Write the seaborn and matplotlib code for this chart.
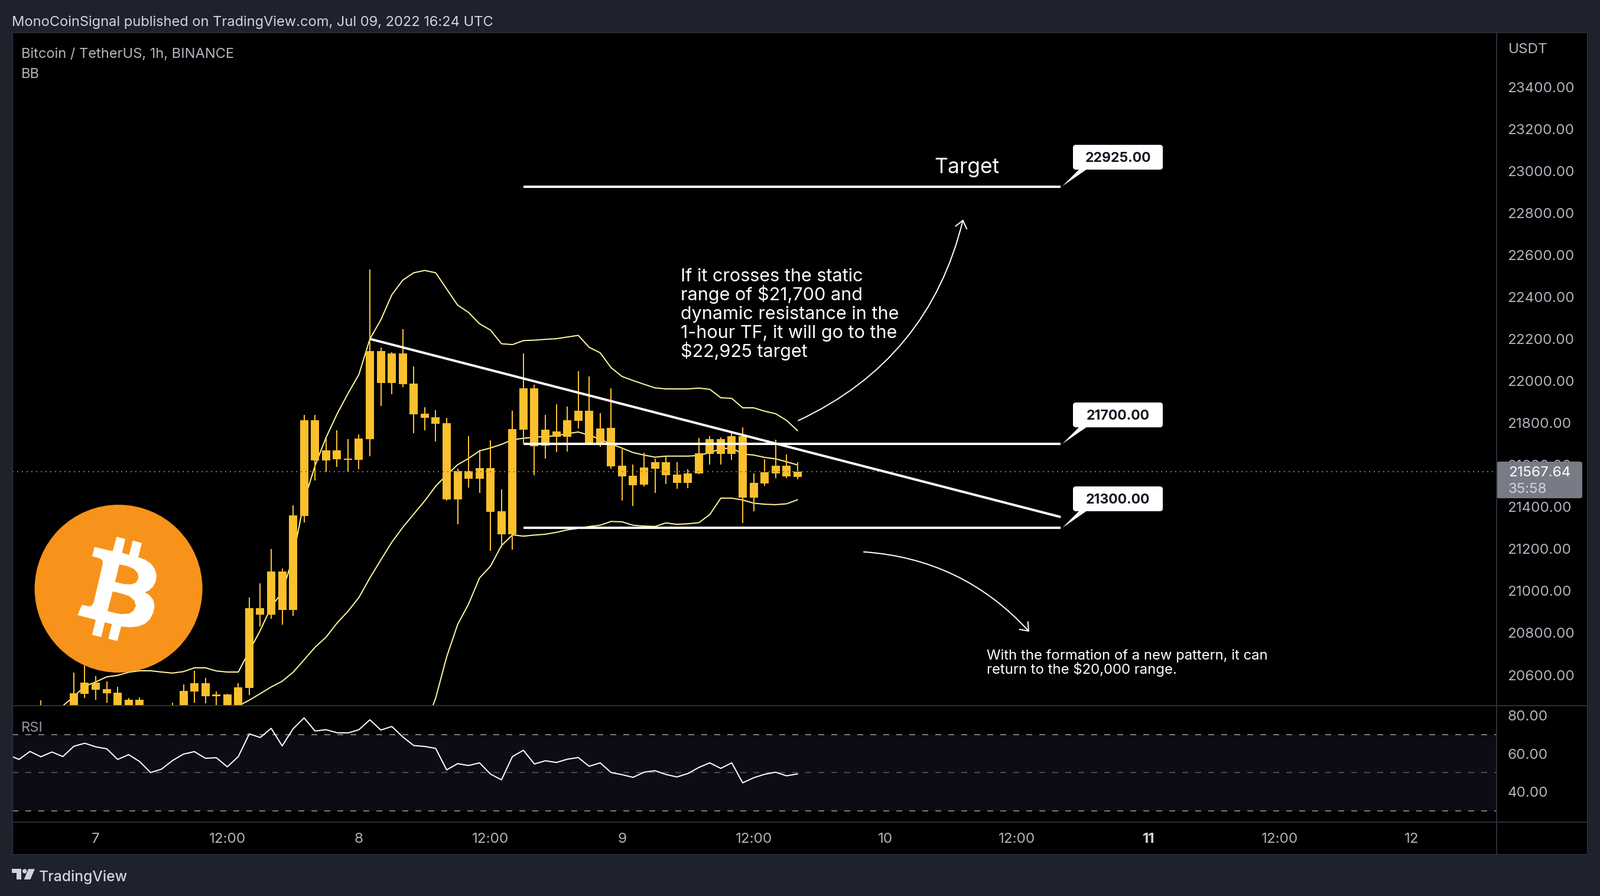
import numpy as np
import matplotlib
matplotlib.use("Agg")
import matplotlib.pyplot as plt
import seaborn as sns
from matplotlib.patches import Rectangle, Circle, FancyBboxPatch, Polygon

# ------ DATA ------ #

# hours since Jul 7 00:00
candle_hours = list(range(-5, 65))
candle_high = [20478, 20445, 20445, 20612, 20644, 20595, 20568, 20543, 20490, 20493,
               20445, 20445, 20467, 20554, 20620, 20586, 20521, 20511, 20560, 20969,
               21036, 21200, 21106, 21409, 21839, 21839, 21727, 21764, 21722, 21744,
               22530, 22160, 22136, 22246, 22068, 21876, 21862, 21825, 21583, 21736,
               21673, 21718, 21484, 21859, 22132, 21983, 21839, 21890, 21878, 22047,
               22022, 21847, 21966, 21676, 21602, 21659, 21631, 21642, 21614, 21580,
               21729, 21738, 21732, 21752, 21780, 21560, 21628, 21721, 21650, 21614]
candle_top = [20440, 20430, 20430, 20512, 20563, 20563, 20532, 20515, 20481, 20481,
              20430, 20430, 20440, 20523, 20560, 20560, 20507, 20507, 20540, 20919,
              20919, 21092, 21092, 21360, 21814, 21814, 21670, 21670, 21631, 21727,
              22141, 22141, 22132, 22132, 21987, 21845, 21828, 21800, 21572, 21572,
              21585, 21585, 21380, 21771, 21966, 21966, 21769, 21760, 21814, 21859,
              21859, 21774, 21777, 21597, 21549, 21588, 21614, 21614, 21554, 21560,
              21656, 21723, 21723, 21738, 21738, 21515, 21566, 21597, 21597, 21569]
candle_bot = [20420, 20420, 20420, 20420, 20509, 20529, 20512, 20420, 20420, 20420,
              20420, 20420, 20420, 20420, 20521, 20498, 20498, 20420, 20420, 20537,
              20888, 20888, 20910, 20910, 21357, 21622, 21622, 21628, 21625, 21625,
              21724, 21989, 21989, 21984, 21842, 21825, 21797, 21437, 21437, 21535,
              21535, 21377, 21270, 21271, 21769, 21688, 21691, 21735, 21735, 21811,
              21704, 21704, 21594, 21546, 21504, 21507, 21583, 21552, 21515, 21515,
              21560, 21653, 21653, 21653, 21445, 21445, 21512, 21560, 21546, 21543]
candle_low = [20400, 20400, 20400, 20400, 20490, 20481, 20467, 20400, 20400, 20400,
              20400, 20400, 20400, 20400, 20467, 20465, 20440, 20400, 20400, 20504,
              20830, 20868, 20839, 20882, 21326, 21527, 21569, 21591, 21569, 21580,
              21642, 21881, 21937, 21970, 21752, 21764, 21713, 21429, 21318, 21493,
              21467, 21191, 21208, 21197, 21704, 21552, 21631, 21662, 21664, 21774,
              21699, 21687, 21583, 21431, 21405, 21498, 21467, 21509, 21487, 21490,
              21557, 21602, 21602, 21625, 21323, 21380, 21501, 21538, 21538, 21532]

upper_hours = list(range(-3, 65))
bb_upper = [20453, 20497, 20546, 20567, 20591, 20598, 20613, 20620, 20620, 20614,
            20609, 20616, 20634, 20634, 20619, 20614, 20614, 20714, 20812, 20924,
            20994, 21162, 21429, 21597, 21730, 21842, 21940, 22031, 22200, 22291,
            22410, 22480, 22515, 22526, 22515, 22438, 22361, 22326, 22272, 22242,
            22177, 22173, 22192, 22194, 22198, 22201, 22209, 22217, 22160, 22134,
            22063, 22021, 22002, 21984, 21967, 21962, 21962, 21962, 21966, 21960,
            21920, 21917, 21872, 21872, 21856, 21844, 21812, 21763]

middle_hours = list(range(13, 65))
bb_middle = [20453, 20480, 20511, 20543, 20570, 20613, 20672, 20732, 20780, 20847,
             20903, 20969, 21062, 21148, 21232, 21303, 21366, 21429, 21499, 21552,
             21601, 21631, 21667, 21681, 21698, 21720, 21727, 21732, 21735, 21739,
             21749, 21757, 21741, 21723, 21699, 21680, 21659, 21647, 21637, 21642,
             21642, 21642, 21645, 21659, 21676, 21681, 21652, 21647, 21636, 21629,
             21615, 21600]

lower_hours = list(range(30, 65))
bb_lower = [20350, 20490, 20686, 20840, 20938, 21062, 21118, 21216, 21267, 21261,
            21266, 21270, 21279, 21291, 21298, 21307, 21313, 21331, 21329, 21313,
            21309, 21307, 21324, 21317, 21320, 21325, 21364, 21442, 21442, 21433,
            21418, 21413, 21411, 21415, 21434]

rsi_hours = list(range(-8, 65))
rsi_values = [59.4, 57.0, 61.2, 58.4, 60.9, 58.5, 63.9, 65.5, 63.6, 62.6,
              57.0, 59.5, 55.9, 50.1, 51.9, 56.4, 59.8, 61.1, 57.6, 57.9,
              53.1, 58.5, 70.4, 68.5, 73.3, 64.1, 73.1, 78.8, 71.9, 72.6,
              71.0, 70.9, 72.6, 77.8, 72.4, 74.3, 68.8, 64.3, 63.8, 62.8,
              51.5, 54.8, 53.8, 55.2, 49.3, 46.3, 58.5, 61.8, 54.6, 56.3,
              55.4, 57.1, 58.0, 53.4, 55.2, 50.1, 49.0, 47.6, 50.3, 51.1,
              49.1, 47.8, 49.6, 52.8, 55.2, 52.3, 55.2, 44.7, 47.4, 49.2,
              50.3, 48.4, 49.4]

price_ticks = [23400, 23200, 23000, 22800, 22600, 22400, 22200, 22000, 21800,
               21600, 21400, 21200, 21000, 20800, 20600]
rsi_ticks = [80, 60, 40]
time_ticks = [0, 12, 24, 36, 48, 60, 72, 84, 96, 108, 120]
time_labels = ["7", "12:00", "8", "12:00", "9", "12:00", "10", "12:00", "11", "12:00", "12"]

last_price = 21567.64
target_levels = [22925, 21700, 21300]
level_start, level_end = 39, 88
trend_hours = [25, 88]
trend_prices = [22200, 21352]

note_lines = ["If it crosses the static", "range of $21,700 and", "dynamic resistance in the",
              "1-hour TF, it will go to the", "$22,925 target"]
small_lines = ["With the formation of a new pattern, it can", "return to the $20,000 range."]

b_outer = [(232, 54), (276, 66), (260, 136), (296, 146), (314, 74), (360, 86), (342, 158), (375, 170),
           (405, 190), (425, 215), (435, 250), (430, 285), (415, 310), (395, 328), (375, 336), (400, 352),
           (418, 375), (425, 405), (418, 440), (400, 475), (375, 497), (340, 510), (300, 514), (255, 510),
           (236, 584), (190, 572), (208, 498), (172, 489), (154, 564), (108, 552), (126, 476), (34, 452),
           (56, 400), (92, 408), (105, 405), (115, 390), (162, 190), (160, 175), (148, 165), (108, 153),
           (120, 106), (212, 128)]
b_hole_top = [(246, 195), (285, 203), (320, 218), (340, 240), (343, 265), (330, 288), (305, 296),
              (270, 295), (224, 284)]
b_hole_low = [(212, 332), (255, 342), (295, 355), (322, 378), (330, 405), (318, 430), (295, 445),
              (250, 447), (186, 432)]

# ------ STYLE ------ #

W, H = 2708, 1516
BG = "#1e222d"
BORDER = "#2a2e39"
AXIS_TEXT = "#b2b5be"
CANDLE = "#fbc02d"
BAND = "#fff59d"
LOGO = "#f7931a"
FOOT = "#d1d4dc"
px = 0.72  # pixels to points at dpi 100
AXIS_SIZE = 17.4

sns.set_theme(style="dark", font="Inter", rc={"axes.facecolor": "black", "figure.facecolor": BG,
                                              "axes.grid": False, "axes.linewidth": 0})

fig = plt.figure(figsize=(W / 100, H / 100), dpi=100)
fig.add_artist(Rectangle((21 / W, 1 - 1446 / H), (2687 - 21) / W, (1446 - 55) / H,
                         transform=fig.transFigure, color="black", zorder=-1))


def pane(left, top, right, bottom):
    return fig.add_axes([left / W, 1 - bottom / H, (right - left) / W, (bottom - top) / H])


ax = pane(21, 55, 2533, 1194)
ax_rsi = pane(21, 1194, 2533, 1391)

# ------ PRICE PANE ------ #

tops = np.array(candle_top)
bots = np.array(candle_bot)
for band_x, band_y in [(upper_hours, bb_upper), (middle_hours, bb_middle), (lower_hours, bb_lower)]:
    sns.lineplot(x=band_x, y=band_y, ax=ax, color=BAND, lw=2 * px, estimator=None, zorder=2)

ax.vlines(candle_hours, candle_low, candle_high, color=CANDLE, lw=2 * px, zorder=3)
ax.bar(candle_hours, tops - bots, bottom=bots, width=14 / 18.56, color=CANDLE, lw=0, zorder=3)

ax.axhline(last_price, color="#787b86", lw=2 * px, ls=(0, (1, 3)), zorder=4)
for level in target_levels:
    ax.plot([level_start, level_end], [level, level], color="white", lw=4 * px,
            solid_capstyle="butt", zorder=5)
ax.plot(trend_hours, trend_prices, color="white", lw=4 * px, solid_capstyle="butt", zorder=5)

arrow = dict(color="white", lw=2 * px, shrinkA=0, shrinkB=0, mutation_scale=10)
ax.annotate("", xy=(79.1, 22769), xytext=(64.06, 21811), zorder=6,
            arrowprops=dict(arrowstyle="->,head_length=0.9,head_width=0.7",
                            connectionstyle="arc3,rad=0.24", **arrow))
ax.annotate("", xy=(85.13, 20806), xytext=(70.04, 21186), zorder=6,
            arrowprops=dict(arrowstyle="->,head_length=0.9,head_width=0.7",
                            connectionstyle="arc3,rad=-0.2", **arrow))

ax.set_xlim(-7.6, 127.75)
ax.set_ylim(20453.7, 23659)
ax.set_xticks([])
ax.set_yticks(price_ticks)
ax.set_yticklabels([f"{t:.2f}" for t in price_ticks], va="center_baseline")
ax.yaxis.tick_right()
ax.tick_params(axis="y", length=0, pad=18.5 * px, labelsize=AXIS_SIZE, labelcolor=AXIS_TEXT)
ax.set_ylabel("")

# ------ RSI PANE ------ #

ax_rsi.axhspan(30, 70, color="#0d0b14", lw=0, zorder=1)
ax_rsi.axhline(70, color="#787b86", lw=2 * px, ls=(0, (5, 6)), zorder=2)
ax_rsi.axhline(50, color="#4a4a55", lw=2 * px, ls=(0, (5, 6)), zorder=2)
ax_rsi.axhline(30, color="#787b86", lw=2 * px, ls=(0, (5, 6)), zorder=2)
sns.lineplot(x=rsi_hours, y=rsi_values, ax=ax_rsi, color="white", lw=2 * px, estimator=None, zorder=3)

ax_rsi.set_xlim(-7.6, 127.75)
ax_rsi.set_ylim(24.1, 85.2)
ax_rsi.set_yticks(rsi_ticks)
ax_rsi.set_yticklabels([f"{t:.2f}" for t in rsi_ticks], va="center_baseline")
ax_rsi.yaxis.tick_right()
ax_rsi.tick_params(axis="y", length=0, pad=18.5 * px, labelsize=AXIS_SIZE, labelcolor=AXIS_TEXT)
ax_rsi.set_xticks(time_ticks)
ax_rsi.set_xticklabels(time_labels)
ax_rsi.tick_params(axis="x", length=0, pad=18 * px, labelsize=AXIS_SIZE, labelcolor=AXIS_TEXT)
for tick in ax_rsi.get_xticklabels():
    if tick.get_text() == "11":
        tick.set_fontweight("bold")
        tick.set_color(FOOT)
ax_rsi.set_ylabel("")

# ------ OVERLAY (pixel coordinates) ------ #

ov = fig.add_axes([0, 0, 1, 1], zorder=5)
ov.set_xlim(0, W)
ov.set_ylim(H, 0)
ov.axis("off")

for x0, y0, x1, y1 in [(21, 55, 2687, 55), (21, 55, 21, 1446), (21, 1446, 2687, 1446),
                       (2687, 55, 2687, 1446), (2533, 55, 2533, 1446),
                       (21, 1194, 2687, 1194), (21, 1391, 2687, 1391)]:
    ov.plot([x0, x1], [y0, y1], color=BORDER, lw=2 * px, solid_capstyle="butt")

ov.text(20, 35, "MonoCoinSignal published on TradingView.com, Jul 09, 2022 16:24 UTC",
        color=FOOT, fontsize=17, va="center_baseline")
ov.text(36, 90, "Bitcoin / TetherUS, 1h, BINANCE", color=AXIS_TEXT, fontsize=17, va="center_baseline")
ov.text(36, 124, "BB", color=AXIS_TEXT, fontsize=17, va="center_baseline")
ov.text(36, 1230, "RSI", color="#9598a1", fontsize=17, va="center_baseline")
ov.text(2553, 81, "USDT", color=AXIS_TEXT, fontsize=AXIS_SIZE, va="center_baseline")

# current price tag
ov.add_patch(FancyBboxPatch((2533, 781), 145, 62, boxstyle="round,pad=0,rounding_size=4",
                            fc="#787b86", ec="none"))
ov.text(2553, 798, f"{last_price:.2f}", color="white", fontsize=AXIS_SIZE, va="center_baseline")
ov.text(2553, 826, "35:58", color=FOOT, fontsize=AXIS_SIZE, va="center_baseline")

# level boxes with tails
for level, line_y in zip(target_levels, [314, 750, 892]):
    ov.add_patch(FancyBboxPatch((1816, line_y - 69), 152, 42, boxstyle="round,pad=0,rounding_size=5",
                                fc="white", ec="none"))
    ov.add_patch(Polygon([(1827, line_y - 28), (1840, line_y - 28), (1798, line_y + 1)], fc="white", ec="none"))
    ov.text(1892, line_y - 49, f"{level:.2f}", color="#131722", fontsize=16.6, fontweight="bold",
            ha="center", va="center_baseline")

ov.text(1581, 280, "Target", color="white", fontsize=25.6, va="center_baseline")

for i, line in enumerate(note_lines):
    ov.text(1152, 476 + 32 * i, line, color="white", fontsize=22, va="baseline")
for i, line in enumerate(small_lines):
    ov.text(1670, 1116 + 24 * i, line, color="white", fontsize=17.2, va="baseline")

# footer
ov.add_patch(Polygon([(20, 1470.3), (36, 1470.3), (36, 1488), (28.3, 1488), (28.3, 1477.3), (20, 1477.3)],
                     fc=FOOT, ec="none"))
ov.add_patch(Circle((41.7, 1474), 3.7, fc=FOOT, ec="none"))
ov.add_patch(Polygon([(48, 1470.3), (59, 1470.3), (51.3, 1488), (40.7, 1488)], fc=FOOT, ec="none"))
ov.text(66, 1481, "TradingView", color=FOOT, fontsize=17.8, fontweight="medium", va="center_baseline")

# bitcoin logo
ov.add_patch(Circle((200.6, 996), 142, fc=LOGO, ec="none"))


def logo_points(points):
    return [(120 + x / 3, 890 + y / 3) for x, y in points]


ov.add_patch(Polygon(logo_points(b_outer), fc="white", ec="none"))
ov.add_patch(Polygon(logo_points(b_hole_top), fc=LOGO, ec="none"))
ov.add_patch(Polygon(logo_points(b_hole_low), fc=LOGO, ec="none"))

ov.set_xlim(0, W)
ov.set_ylim(H, 0)

fig.savefig("out.png", dpi=100, facecolor=BG)
